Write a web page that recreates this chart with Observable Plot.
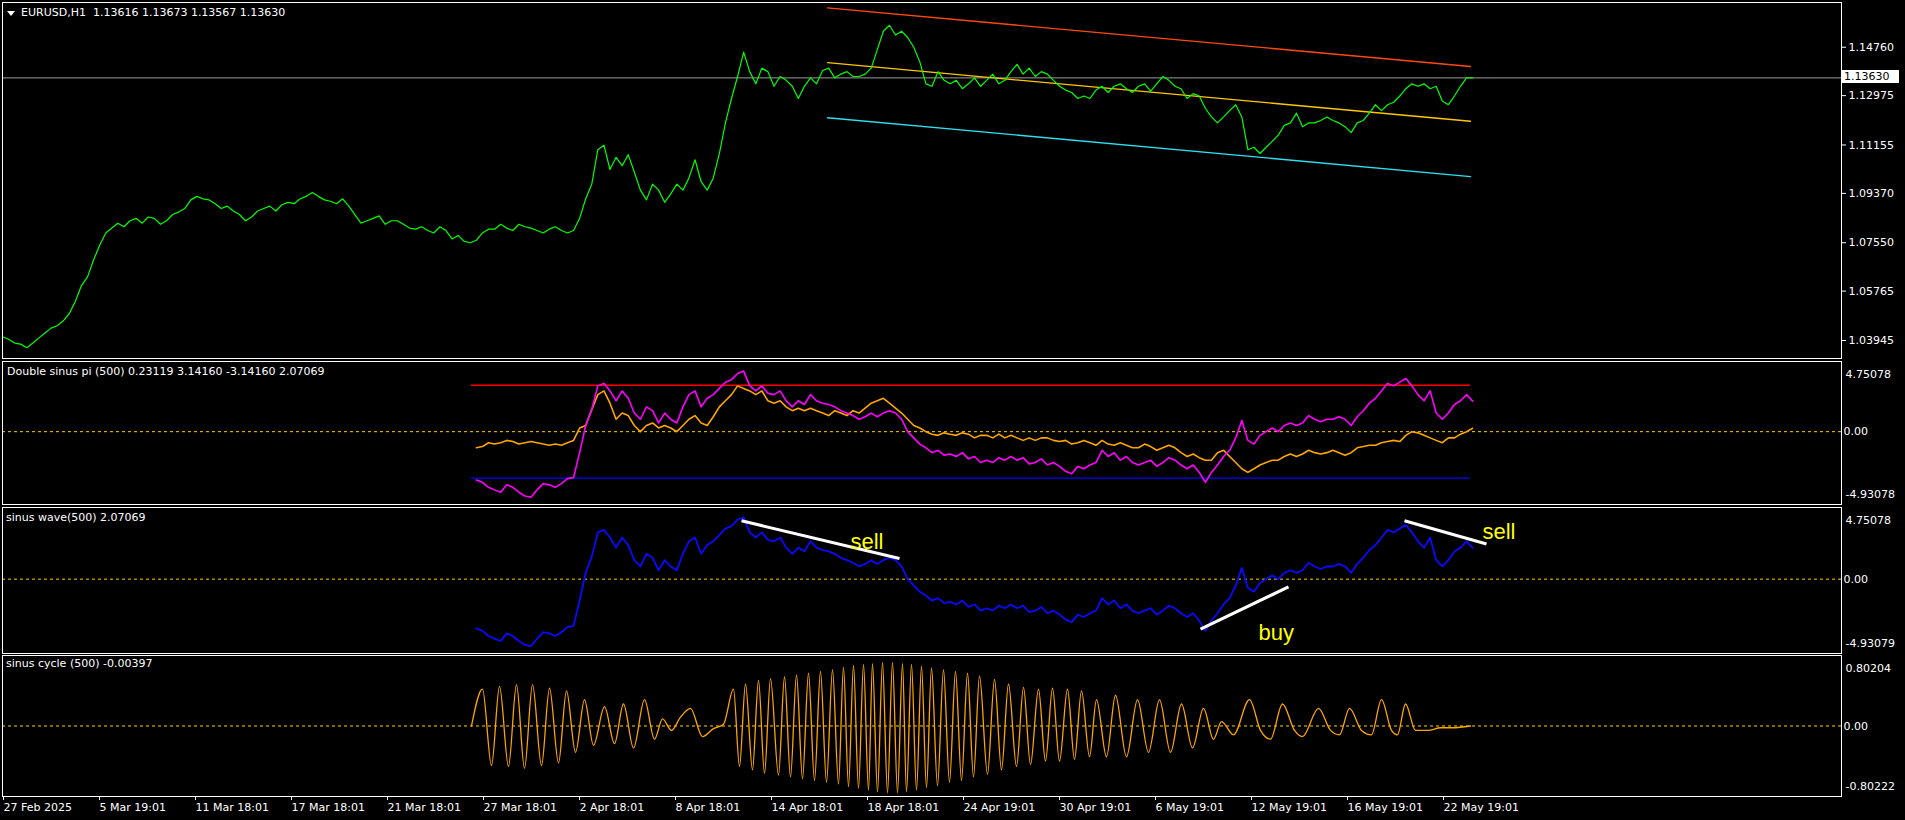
<!DOCTYPE html>
<html><head><meta charset="utf-8">
<script src="https://cdn.jsdelivr.net/npm/d3@7"></script>
<script src="https://cdn.jsdelivr.net/npm/@observablehq/plot@0.6"></script>
<style>
html,body{margin:0;padding:0;background:#000;}
#wrap{position:relative;width:1905px;height:820px;background:#000;overflow:hidden;font-family:"DejaVu Sans",sans-serif;}
#wrap svg{position:absolute;left:0;overflow:visible;}
.lbl{position:absolute;color:#fff;font-size:11px;white-space:pre;line-height:13px;}
.tri{position:absolute;left:7px;top:11px;width:0;height:0;border-left:4px solid transparent;border-right:4px solid transparent;border-top:5px solid #fff;}
.pricebox{position:absolute;left:1842px;width:55px;height:13px;background:#fff;color:#000;font-size:11px;line-height:13px;padding-left:2px;}
</style></head><body><div id="wrap"></div>
<script>
// ---------- DATA ----------
const STEP = 6.075;            // hours (H1 bars) between price samples
const priceClose = [1.0408,1.0399,1.0385,1.0381,1.0368,1.0385,1.0404,1.0422,1.0440,1.0449,
 1.0467,1.0494,1.0539,1.0597,1.0629,1.0692,1.0746,1.0791,1.0809,1.0827,
 1.0814,1.0836,1.0845,1.0827,1.0850,1.0845,1.0823,1.0836,1.0859,1.0868,
 1.0881,1.0913,1.0926,1.0917,1.0913,1.0899,1.0881,1.0890,1.0872,1.0859,
 1.0836,1.0850,1.0872,1.0881,1.0890,1.0872,1.0895,1.0904,1.0899,1.0917,
 1.0926,1.0940,1.0926,1.0913,1.0908,1.0899,1.0917,1.0890,1.0859,1.0827,
 1.0836,1.0845,1.0854,1.0823,1.0836,1.0836,1.0823,1.0809,1.0805,1.0814,
 1.0800,1.0791,1.0814,1.0800,1.0769,1.0782,1.0760,1.0755,1.0764,1.0791,
 1.0805,1.0805,1.0823,1.0809,1.0800,1.0823,1.0814,1.0809,1.0800,1.0791,
 1.0805,1.0814,1.0800,1.0791,1.0800,1.0845,1.0917,1.0971,1.1098,1.1115,
 1.1025,1.1070,1.1039,1.1080,1.1016,1.0949,1.0913,1.0971,1.0949,1.0904,
 1.0935,1.0971,1.0949,1.0994,1.1061,1.0980,1.0949,1.0994,1.1084,1.1197,
 1.1287,1.1368,1.1458,1.1386,1.1341,1.1399,1.1386,1.1332,1.1368,1.1354,
 1.1332,1.1287,1.1332,1.1363,1.1341,1.1390,1.1399,1.1363,1.1377,1.1386,
 1.1368,1.1368,1.1377,1.1399,1.1467,1.1535,1.1557,1.1521,1.1535,1.1512,
 1.1476,1.1422,1.1341,1.1332,1.1386,1.1354,1.1341,1.1354,1.1323,1.1341,
 1.1363,1.1332,1.1354,1.1377,1.1341,1.1354,1.1386,1.1413,1.1377,1.1399,
 1.1368,1.1386,1.1377,1.1354,1.1332,1.1318,1.1309,1.1287,1.1296,1.1287,
 1.1318,1.1332,1.1309,1.1332,1.1341,1.1323,1.1309,1.1332,1.1341,1.1314,
 1.1341,1.1368,1.1354,1.1332,1.1323,1.1287,1.1305,1.1296,1.1251,1.1219,
 1.1197,1.1219,1.1242,1.1264,1.1219,1.1098,1.1107,1.1084,1.1107,1.1129,
 1.1152,1.1188,1.1197,1.1233,1.1183,1.1197,1.1197,1.1206,1.1219,1.1206,
 1.1197,1.1183,1.1161,1.1197,1.1206,1.1233,1.1264,1.1242,1.1264,1.1273,
 1.1296,1.1323,1.1341,1.1332,1.1341,1.1323,1.1332,1.1278,1.1264,1.1296,
 1.1332,1.1363,1.1363];
const lastPrice = 1.13630;
const priceTicks = [1.14760, 1.12975, 1.11155, 1.09370, 1.07550, 1.05765, 1.03945];
const priceDomain = [1.0328, 1.1641];

const channelHours  = [825, 1468];
const channelUpper  = [1.1621, 1.1405];
const channelMiddle = [1.1419, 1.1203];
const channelLower  = [1.1216, 1.0999];

const IND_START = 78;           // sample index where the indicators begin
const sinusWave = [-3.27,-3.43,-3.77,-3.94,-4.10,-3.60,-3.77,-4.10,-4.36,-4.44,
 -3.94,-3.52,-3.60,-3.77,-3.52,-3.18,-3.10,-1.42,0.42,1.51,
 3.10,3.27,2.76,2.09,2.76,2.26,1.26,0.84,1.68,1.42,
 0.59,1.26,0.84,0.59,1.68,2.51,2.76,1.68,2.26,2.51,
 2.93,3.35,3.52,3.94,4.10,3.10,2.76,3.10,2.60,2.51,
 2.76,2.09,1.68,2.09,1.84,2.51,2.09,1.93,1.84,1.68,
 1.42,1.26,1.09,0.84,1.01,1.26,1.01,1.26,1.42,1.26,
 0.84,0,-0.42,-0.84,-1.09,-1.42,-1.26,-1.59,-1.51,-1.68,
 -1.42,-1.84,-1.68,-2.09,-1.93,-2.09,-1.76,-1.93,-1.68,-1.93,
 -1.76,-2.18,-2.09,-1.84,-2.26,-2.09,-2.35,-2.68,-2.85,-2.35,
 -2.51,-2.26,-2.09,-1.26,-1.68,-1.42,-1.93,-1.68,-2.09,-2.26,
 -2.09,-1.93,-2.35,-2.09,-1.76,-1.93,-2.26,-2.51,-2.26,-2.76,
 -3.43,-2.76,-2.26,-1.68,-1.26,-0.42,0.75,-0.59,-0.84,-0.25,
 0,0.25,0,0.42,0.59,0.42,0.59,1.09,0.84,0.67,
 0.84,0.84,1.01,0.84,0.42,1.01,1.42,1.93,2.26,2.76,
 3.27,3.10,3.35,3.60,3.10,2.51,2.09,2.76,1.26,0.84,
 1.26,1.84,2.09,2.51,2.07];
const sinusPiOrange = [-1.09,-1.01,-0.75,-0.84,-0.75,-0.59,-0.67,-0.84,-0.75,-0.67,
 -0.75,-0.84,-0.92,-0.84,-0.92,-0.75,-0.59,0.25,0.42,1.51,
 2.51,2.76,1.93,0.84,1.26,1.09,0.42,0,0.42,0.59,
 0.25,0.42,0.25,0,0.42,0.84,1.09,0.59,0.42,1.01,
 1.68,2.09,2.51,3.10,2.93,2.76,2.51,2.76,2.09,1.93,
 2.09,1.68,1.42,1.59,1.42,1.59,1.42,1.26,1.09,1.42,
 1.26,1.09,1.42,1.26,1.59,1.93,2.09,2.26,1.93,1.59,
 1.26,0.84,0.42,0.25,0,-0.17,-0.25,-0.08,-0.17,-0.25,
 -0.08,-0.17,-0.42,-0.25,-0.25,-0.42,-0.17,-0.42,-0.25,-0.42,
 -0.59,-0.42,-0.59,-0.42,-0.42,-0.59,-0.67,-0.59,-0.84,-0.75,
 -0.59,-0.75,-0.92,-0.59,-0.84,-0.92,-0.75,-0.92,-1.09,-1.09,
 -0.84,-1.01,-1.26,-1.09,-0.92,-1.09,-1.42,-1.68,-1.51,-1.76,
 -1.93,-1.93,-1.42,-1.26,-1.68,-2.09,-2.51,-2.76,-2.51,-2.26,
 -2.09,-1.93,-1.93,-1.68,-1.51,-1.68,-1.51,-1.26,-1.42,-1.51,
 -1.42,-1.26,-1.42,-1.59,-1.42,-1.09,-1.01,-0.92,-0.92,-0.75,
 -0.67,-0.59,-0.67,-0.25,0,-0.08,-0.25,-0.42,-0.59,-0.75,
 -0.42,-0.42,-0.17,0,0.23];
const piLevel = 3.14160;
const levelHours = [469, 1468];
const sinusPiDomain = [-4.93078, 4.75078];
const sinusWaveDomain = [-4.93079, 4.75078];
const sinusCycleDomain = [-0.80222, 0.80204];

// sinus cycle turning points: [hour, value]
const sinusCycle = [[469,0],[480,0.42],[489,-0.45],[497,0.45],[506,-0.46],[514,0.47],[522,-0.48],[530,0.47],[539,-0.45],[547,0.43],
 [556,-0.42],[564,0.40],[573,-0.30],[582,0.30],[591,-0.22],[602,0.22],[612,-0.20],[621,0.25],[631,-0.25],[642,0.30],
 [652,-0.15],[660,0.08],[669,-0.05],[678,0.10],[688,0.20],[700,-0.12],[711,-0.03],[721,0.02],[731,0.42],[737,-0.46],
 [743,0.48],[750,-0.50],[756,0.52],[762,-0.54],[768,0.54],[776,-0.56],[782,0.56],[788,-0.58],[794,0.58],[800,-0.60],
 [806,0.60],[812,-0.62],[818,0.62],[824,-0.64],[830,0.64],[836,-0.66],[841,0.67],[846,-0.69],[851,0.69],[856,-0.71],
 [861,0.70],[866,-0.73],[870,0.71],[875,-0.75],[880,0.72],[885,-0.76],[890,0.72],[895,-0.76],[900,0.71],[904,-0.75],
 [909,0.70],[914,-0.73],[919,0.68],[924,-0.70],[929,0.66],[935,-0.68],[941,0.64],[947,-0.64],[953,0.62],[959,-0.62],
 [965,0.60],[971,-0.58],[977,0.57],[985,-0.55],[992,0.53],[999,-0.50],[1006,0.48],[1014,-0.46],[1021,0.44],[1028,-0.44],
 [1036,0.42],[1043,-0.40],[1050,0.43],[1057,-0.40],[1065,0.42],[1072,-0.38],[1079,0.40],[1087,-0.35],[1094,0.30],[1104,-0.35],
 [1113,0.35],[1124,-0.35],[1135,0.30],[1146,-0.30],[1157,0.30],[1168,-0.30],[1179,0.25],[1190,-0.25],[1201,0.20],[1211,-0.15],
 [1219,0.05],[1231,-0.10],[1247,0.30],[1258,-0.05],[1268,-0.15],[1280,0.25],[1292,-0.05],[1300,-0.12],[1316,0.20],[1328,-0.05],
 [1337,-0.10],[1347,0.20],[1359,-0.05],[1369,-0.10],[1379,0.30],[1389,-0.05],[1395,-0.10],[1403,0.25],[1413,-0.05],[1426,-0.05],
 [1438,-0.02],[1450,-0.02],[1468,0.00]];

const trendLines = [
  {h1: 739, v1: 3.87, h2: 897, v2: 1.37},
  {h1: 1198, v1: -3.32, h2: 1286, v2: -0.51},
  {h1: 1402, v1: 3.87, h2: 1484, v2: 2.33}
];
const annotations = [
  {text: "sell", h: 848, v: 2.00},
  {text: "buy", h: 1256, v: -4.03},
  {text: "sell", h: 1480, v: 2.66}
];

const timeTickHours = [1, 97, 193, 289, 385, 481, 577, 673, 769, 865, 961, 1057, 1153, 1249, 1345, 1441];
const timeTickLabels = ["27 Feb 2025","5 Mar 19:01","11 Mar 18:01","17 Mar 18:01","21 Mar 18:01","27 Mar 18:01",
  "2 Apr 18:01","8 Apr 18:01","14 Apr 18:01","18 Apr 18:01","24 Apr 19:01","30 Apr 19:01","6 May 19:01",
  "12 May 19:01","16 May 19:01","22 May 19:01"];

const titleMain = "EURUSD,H1  1.13616 1.13673 1.13567 1.13630";
const titlePi = "Double sinus pi (500) 0.23119 3.14160 -3.14160 2.07069";
const titleWave = "sinus wave(500) 2.07069";
const titleCycle = "sinus cycle (500) -0.00397";

// ---------- DRAWING ----------
const wrap = document.getElementById("wrap");
const W = 1905, ML = 2, MR = 64;
const X = {domain: [0, 1839], axis: null};
const style = {background: "transparent", color: "#fff", fontFamily: "DejaVu Sans, sans-serif", fontSize: "11px", overflow: "visible"};
const sampleHour = (i) => i * STEP;
const indHour = (i) => (IND_START + i) * STEP;
const tickLabelMap = new Map(timeTickHours.map((h, i) => [h, timeTickLabels[i]]));

function place(svg, top) { svg.style.top = top + "px"; wrap.appendChild(svg); return svg; }
function addLabel(text, left, top, cls) {
  const d = document.createElement("div");
  d.className = cls || "lbl"; d.textContent = text;
  d.style.left = left + "px"; d.style.top = top + "px";
  wrap.appendChild(d); return d;
}
function rangeLabels(topTxt, botTxt) {
  return [
    Plot.text([topTxt], {text: d => d, frameAnchor: "top-right", dx: 4, dy: 9, textAnchor: "start", fill: "#fff"}),
    Plot.text([botTxt], {text: d => d, frameAnchor: "bottom-right", dx: 4, dy: -7, textAnchor: "start", fill: "#fff"}),
    Plot.text([0], {y: d => d, text: () => "0.00", frameAnchor: "right", dx: 2, textAnchor: "start", fill: "#fff"}),
    Plot.ruleY([0], {stroke: "#ffd200", strokeDasharray: "3,3"})
  ];
}

// Pane 1: price
const p1 = Plot.plot({
  width: W, height: 360, marginLeft: ML, marginRight: MR, marginTop: 2, marginBottom: 2,
  x: X, y: {domain: priceDomain, axis: null}, style,
  marks: [
    Plot.ruleY([lastPrice], {stroke: "#9c9c9c"}),
    Plot.line(channelHours.map((h, i) => [h, channelUpper[i]]), {stroke: "#ff4a10", strokeWidth: 1.3}),
    Plot.line(channelHours.map((h, i) => [h, channelMiddle[i]]), {stroke: "#ffc800", strokeWidth: 1.3}),
    Plot.line(channelHours.map((h, i) => [h, channelLower[i]]), {stroke: "#30e0f0", strokeWidth: 1.3}),
    Plot.lineY(priceClose, {x: (d, i) => sampleHour(i), y: d => d, stroke: "#00ff00", strokeWidth: 1.2}),
    Plot.frame({stroke: "#fff"}),
    Plot.axisY(priceTicks, {anchor: "right", tickSize: 4, tickPadding: 3, tickFormat: d => d.toFixed(5), stroke: "#fff", fill: "#fff"})
  ]
});
place(p1, 0);

// Pane 2: Double sinus pi
const p2 = Plot.plot({
  width: W, height: 147, marginLeft: ML, marginRight: MR, marginTop: 2, marginBottom: 2,
  x: X, y: {domain: sinusPiDomain, axis: null}, style,
  marks: [
    ...rangeLabels("4.75078", "-4.93078"),
    Plot.ruleY([piLevel], {x1: levelHours[0], x2: levelHours[1], stroke: "#ff0000", strokeWidth: 1.3}),
    Plot.ruleY([-piLevel], {x1: levelHours[0], x2: levelHours[1], stroke: "#0000ff", strokeWidth: 1.3}),
    Plot.lineY(sinusPiOrange, {x: (d, i) => indHour(i), y: d => d, stroke: "#ffa500", strokeWidth: 1.6}),
    Plot.lineY(sinusWave, {x: (d, i) => indHour(i), y: d => d, stroke: "#ff00ff", strokeWidth: 1.6}),
    Plot.frame({stroke: "#fff"})
  ]
});
place(p2, 359);

// Pane 3: sinus wave
const p3 = Plot.plot({
  width: W, height: 150, marginLeft: ML, marginRight: MR, marginTop: 2, marginBottom: 2,
  x: X, y: {domain: sinusWaveDomain, axis: null}, style,
  marks: [
    ...rangeLabels("4.75078", "-4.93079"),
    Plot.lineY(sinusWave, {x: (d, i) => indHour(i), y: d => d, stroke: "#0a0aff", strokeWidth: 1.8}),
    Plot.link(trendLines, {x1: "h1", y1: "v1", x2: "h2", y2: "v2", stroke: "#fff", strokeWidth: 3}),
    Plot.text(annotations, {x: "h", y: "v", text: "text", fill: "#ffff00", fontSize: 22, textAnchor: "start", lineAnchor: "bottom", fontFamily: "Liberation Sans, Arial, sans-serif"}),
    Plot.frame({stroke: "#fff"})
  ]
});
place(p3, 505);

// Pane 4: sinus cycle + time axis
const p4 = Plot.plot({
  width: W, height: 167, marginLeft: ML, marginRight: MR, marginTop: 2, marginBottom: 24,
  x: X, y: {domain: sinusCycleDomain, axis: null}, style,
  marks: [
    ...rangeLabels("0.80204", "-0.80222"),
    Plot.line(sinusCycle, {x: d => d[0], y: d => d[1], stroke: "#ffa500", strokeWidth: 1.3, curve: "monotone-x"}),
    Plot.frame({stroke: "#fff"}),
    Plot.axisX(timeTickHours, {anchor: "bottom", tickSize: 4, tickPadding: 3, tickFormat: d => tickLabelMap.get(d), textAnchor: "start", stroke: "#fff", fill: "#fff"})
  ]
});
place(p4, 653);

// Titles
const tri = document.createElement("div"); tri.className = "tri"; wrap.appendChild(tri);
addLabel(titleMain, 21, 6);
addLabel(titlePi, 7, 365);
addLabel(titleWave, 6, 511);
addLabel(titleCycle, 6, 657);
const py = p1.scale("y").apply(lastPrice);
addLabel(lastPrice.toFixed(5), 0, Math.round(py - 7), "pricebox").style.left = "1842px";
</script></body></html>
